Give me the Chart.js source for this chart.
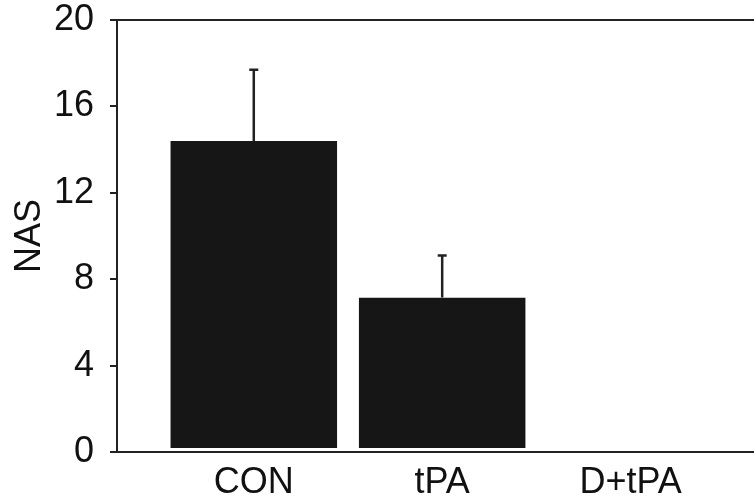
<!DOCTYPE html>
<html lang="en">
<head>
    <meta charset="UTF-8">
    <title>NAS</title>
    <script src="https://cdn.jsdelivr.net/npm/chart.js@4"></script>
    <style>
        html, body { margin: 0; padding: 0; background: #fff; }
        #wrap { width: 754px; height: 503px; }
    </style>
</head>
<body>
<div id="wrap"><canvas id="barChart"></canvas></div>

<script>
    // data
    const categories = ['CON', 'tPA', 'D+tPA'];
    const nasMeans = [14.4, 7.15, 0];
    const nasErrors = [3.3, 1.95, 0];
    const yTicks = [0, 4, 8, 12, 16, 20];

    const ink = '#222222';
    const fontFamily = '"Liberation Sans", Arial, sans-serif';

    // upper-only error bars, placed through the chart's scales
    const errorBars = {
        id: 'errorBars',
        afterDatasetsDraw(chart) {
            const { ctx, scales } = chart;
            const meta = chart.getDatasetMeta(0);
            ctx.save();
            ctx.strokeStyle = ink;
            ctx.lineWidth = 2.5;
            meta.data.forEach((bar, i) => {
                if (!nasErrors[i]) return;
                const x = scales.x.getPixelForValue(i);
                const y0 = scales.y.getPixelForValue(nasMeans[i]);
                const y1 = scales.y.getPixelForValue(nasMeans[i] + nasErrors[i]);
                ctx.beginPath();
                ctx.moveTo(x, y0);
                ctx.lineTo(x, y1);
                ctx.moveTo(x - 4.5, y1);
                ctx.lineTo(x + 4.5, y1);
                ctx.stroke();
            });
            ctx.restore();
        }
    };

    // closing line along the top of the plot
    const topFrame = {
        id: 'topFrame',
        afterDraw(chart) {
            const { ctx, chartArea } = chart;
            ctx.save();
            ctx.strokeStyle = ink;
            ctx.lineWidth = 2;
            ctx.beginPath();
            ctx.moveTo(chartArea.left, chartArea.top);
            ctx.lineTo(chartArea.right, chartArea.top);
            ctx.stroke();
            ctx.restore();
        }
    };

    const config = {
        type: 'bar',
        data: {
            datasets: [{
                label: 'NAS',
                data: categories.map((c, i) => ({ x: i, y: nasMeans[i] })),
                backgroundColor: '#161616',
                borderColor: '#ffffff',
                borderWidth: { top: 0, left: 0, right: 0, bottom: 3 },
                borderSkipped: false,
                barPercentage: 0.886,
                categoryPercentage: 1
            }]
        },
        options: {
            responsive: true,
            maintainAspectRatio: false,
            animation: false,
            layout: { padding: { top: 20, right: 0, left: 0, bottom: 0 } },
            plugins: {
                legend: { display: false },
                tooltip: { enabled: false }
            },
            scales: {
                x: {
                    type: 'linear',
                    offset: false,
                    min: -0.726,
                    max: 2.655,
                    afterBuildTicks: scale => {
                        scale.ticks = categories.map((c, i) => ({ value: i }));
                    },
                    afterFit: scale => {
                        scale.height = 51;
                        scale.paddingLeft = 0;
                        scale.paddingRight = 0;
                    },
                    grid: { display: false },
                    border: { display: true, color: ink, width: 2 },
                    ticks: {
                        padding: 1,
                        color: '#111',
                        font: { family: fontFamily, size: 36 },
                        callback: v => categories[v]
                    }
                },
                y: {
                    min: 0,
                    max: 20,
                    afterBuildTicks: scale => {
                        scale.ticks = yTicks.map(v => ({ value: v }));
                    },
                    afterFit: scale => {
                        scale.width = 117;
                        scale.paddingTop = 0;
                        scale.paddingBottom = 0;
                    },
                    grid: {
                        display: true,
                        drawOnChartArea: false,
                        drawTicks: true,
                        tickLength: 7,
                        color: ink,
                        lineWidth: 2
                    },
                    border: { display: true, color: ink, width: 2 },
                    ticks: {
                        padding: 16,
                        color: '#111',
                        font: { family: fontFamily, size: 36 }
                    },
                    title: {
                        display: true,
                        text: 'NAS',
                        color: '#111',
                        padding: { top: 8, bottom: 0 },
                        font: { family: fontFamily, size: 36 }
                    }
                }
            }
        },
        plugins: [errorBars, topFrame]
    };

    new Chart(document.getElementById('barChart'), config);
</script>
</body>
</html>
